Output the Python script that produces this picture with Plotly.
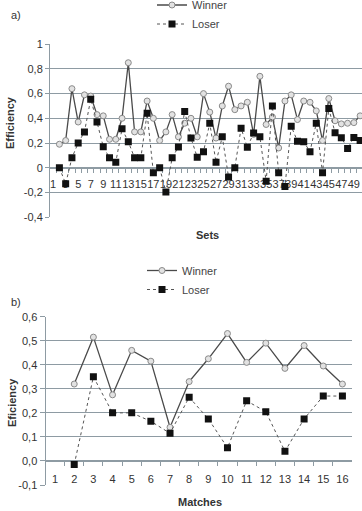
import plotly.graph_objects as go

# ---------------- data ----------------
sets = list(range(1, 51))
winner_sets = [None, 0.19, 0.22, 0.64, 0.37, 0.59, 0.58, 0.43, 0.42, 0.23,
               0.23, 0.40, 0.85, 0.29, 0.29, 0.54, 0.40, 0.22, 0.29, 0.43,
               0.25, 0.36, 0.40, 0.25, 0.60, 0.45, 0.24, 0.50, 0.66, 0.47,
               0.50, 0.53, 0.27, 0.74, 0.35, 0.41, 0.16, 0.54, 0.59, 0.39,
               0.54, 0.53, 0.46, 0.22, 0.56, 0.38, 0.355, 0.36, 0.365, 0.42]
loser_sets = [None, 0.0, -0.13, 0.08, 0.20, 0.29, 0.555, 0.37, 0.17, 0.08,
              0.045, 0.315, 0.21, 0.08, 0.08, 0.44, -0.04, 0.0, -0.197, 0.08,
              0.168, 0.456, 0.24, 0.085, 0.13, 0.36, 0.045, 0.25, -0.075, 0.0,
              0.32, 0.165, 0.28, 0.25, -0.11, 0.50, -0.04, -0.152, 0.335, 0.215,
              0.21, 0.13, 0.36, -0.04, 0.48, 0.283, 0.243, 0.155, 0.245, 0.22]

matches = list(range(1, 17))
winner_matches = [None, 0.32, 0.515, 0.275, 0.46, 0.415, 0.14, 0.33, 0.425,
                  0.53, 0.41, 0.49, 0.385, 0.48, 0.395, 0.32]
loser_matches = [None, -0.015, 0.35, 0.20, 0.20, 0.165, 0.115, 0.265, 0.175,
                 0.055, 0.25, 0.205, 0.04, 0.175, 0.27, 0.27]

a_xticks = list(range(1, 50, 2))
a_yticks = [1, 0.8, 0.6, 0.4, 0.2, 0, -0.2, -0.4]
a_ytext = ["1", "0,8", "0,6", "0,4", "0,2", "0", "-0,2", "-0,4"]
b_yticks = [0.6, 0.5, 0.4, 0.3, 0.2, 0.1, 0.0, -0.1]
b_ytext = ["0,6", "0,5", "0,4", "0,3", "0,2", "0,1", "0,0", "-0,1"]

# ---------------- layout geometry ----------------
W, H = 362, 511
FONT = "Liberation Sans, Arial, sans-serif"
GRID = "#8e9ba3"
TXT = "#333333"

def px_x(p):
    return p / W

def px_y(p):
    return 1 - p / H

a_dom_x = [px_x(50), 1.0]
a_dom_y = [px_y(217.1), px_y(44.2)]
a_yr = [-0.4, 1.0]
b_dom_x = [px_x(45.5), px_x(352)]
b_dom_y = [px_y(485), px_y(316.7)]
b_yr = [-0.1, 0.6]

def zero_pos(dom, rng):
    return dom[0] + (0 - rng[0]) / (rng[1] - rng[0]) * (dom[1] - dom[0])

win_line = dict(color="#4a4a4a", width=1.3)
win_marker = dict(symbol="circle", size=6, color="#e2e2e2",
                  line=dict(color="#8a8a8a", width=1))
los_line = dict(color="#555555", width=1, dash="dot")
los_marker = dict(symbol="square", size=7, color="#111111")

fig = go.Figure()
fig.add_trace(go.Scatter(x=sets, y=winner_sets, name="Winner", mode="lines+markers",
                         line=win_line, marker=win_marker, xaxis="x", yaxis="y",
                         legend="legend"))
fig.add_trace(go.Scatter(x=sets, y=loser_sets, name="Loser", mode="lines+markers",
                         line=los_line, marker=los_marker, xaxis="x", yaxis="y",
                         legend="legend"))
fig.add_trace(go.Scatter(x=matches, y=winner_matches, name="Winner", mode="lines+markers",
                         line=win_line, marker=win_marker, xaxis="x2", yaxis="y2",
                         legend="legend2"))
fig.add_trace(go.Scatter(x=matches, y=loser_matches, name="Loser", mode="lines+markers",
                         line=los_line, marker=los_marker, xaxis="x2", yaxis="y2",
                         legend="legend2"))

tickfont = dict(family=FONT, size=11, color=TXT)

fig.update_layout(
    width=W, height=H,
    margin=dict(l=0, r=0, t=0, b=0, autoexpand=False),
    paper_bgcolor="white", plot_bgcolor="white",
    font=dict(family=FONT, size=11, color=TXT),
    xaxis=dict(domain=a_dom_x, range=[0.5, 50.3], anchor="free",
               position=zero_pos(a_dom_y, a_yr),
               tickmode="array", tickvals=a_xticks, ticktext=[str(v) for v in a_xticks],
               tickangle=0,
               ticks="outside", ticklen=6, tickcolor="rgba(0,0,0,0)",
               minor=dict(tickmode="array", tickvals=[v + 0.5 for v in sets[:-1]],
                          ticks="outside", ticklen=4, tickcolor=GRID, showgrid=False),
               showgrid=False, zeroline=False, showline=True, linecolor=GRID,
               tickfont=tickfont, layer="below traces"),
    yaxis=dict(domain=a_dom_y, range=a_yr, anchor="x",
               tickmode="array", tickvals=a_yticks, ticktext=a_ytext,
               ticks="outside", ticklen=4, tickcolor=GRID,
               showgrid=True, gridcolor=GRID, gridwidth=1, zeroline=False,
               showline=True, linecolor=GRID, tickfont=tickfont),
    xaxis2=dict(domain=b_dom_x, range=[0.5, 16.5], anchor="free",
                position=zero_pos(b_dom_y, b_yr),
                tickmode="array", tickvals=matches, ticktext=[str(v) for v in matches],
                tickangle=0,
                ticks="outside", ticklen=8, tickcolor="rgba(0,0,0,0)",
                minor=dict(tickmode="array", tickvals=[v + 0.5 for v in matches[:-1]],
                           ticks="outside", ticklen=4, tickcolor=GRID, showgrid=False),
                showgrid=False, zeroline=False, showline=True, linecolor=GRID,
                tickfont=tickfont, layer="below traces"),
    yaxis2=dict(domain=b_dom_y, range=b_yr, anchor="x2",
                tickmode="array", tickvals=b_yticks, ticktext=b_ytext,
                ticks="outside", ticklen=5, tickcolor=GRID,
                showgrid=True, gridcolor=GRID, gridwidth=1, zeroline=False,
                showline=True, linecolor=GRID, tickfont=tickfont),
    legend=dict(x=px_x(152), y=px_y(-9.5), xanchor="left", yanchor="top",
                orientation="v", bgcolor="rgba(0,0,0,0)",
                font=dict(family=FONT, size=11, color="#444444")),
    legend2=dict(x=px_x(142), y=px_y(256), xanchor="left", yanchor="top",
                 orientation="v", bgcolor="rgba(0,0,0,0)",
                 font=dict(family=FONT, size=11, color="#444444")),
    showlegend=True,
)

ann = [
    dict(text="a)", x=px_x(9), y=px_y(15), xanchor="left", yanchor="middle",
         font=dict(size=11, color=TXT)),
    dict(text="b)", x=px_x(9), y=px_y(302), xanchor="left", yanchor="middle",
         font=dict(size=11, color=TXT)),
    dict(text="<b>Efficiency</b>", x=px_x(10), y=px_y(123), textangle=-90,
         xanchor="center", yanchor="middle", font=dict(size=11, color=TXT)),
    dict(text="<b>Sets</b>", x=px_x(207), y=px_y(235), xanchor="center",
         yanchor="middle", font=dict(size=11, color=TXT)),
    dict(text="<b>Eficiency</b>", x=px_x(12), y=px_y(403), textangle=-90,
         xanchor="center", yanchor="middle", font=dict(size=11, color=TXT)),
    dict(text="<b>Matches</b>", x=px_x(200), y=px_y(502), xanchor="center",
         yanchor="middle", font=dict(size=11, color=TXT)),
]
for a in ann:
    a.update(xref="paper", yref="paper", showarrow=False)
fig.update_layout(annotations=ann)

fig.write_html("out.html")
